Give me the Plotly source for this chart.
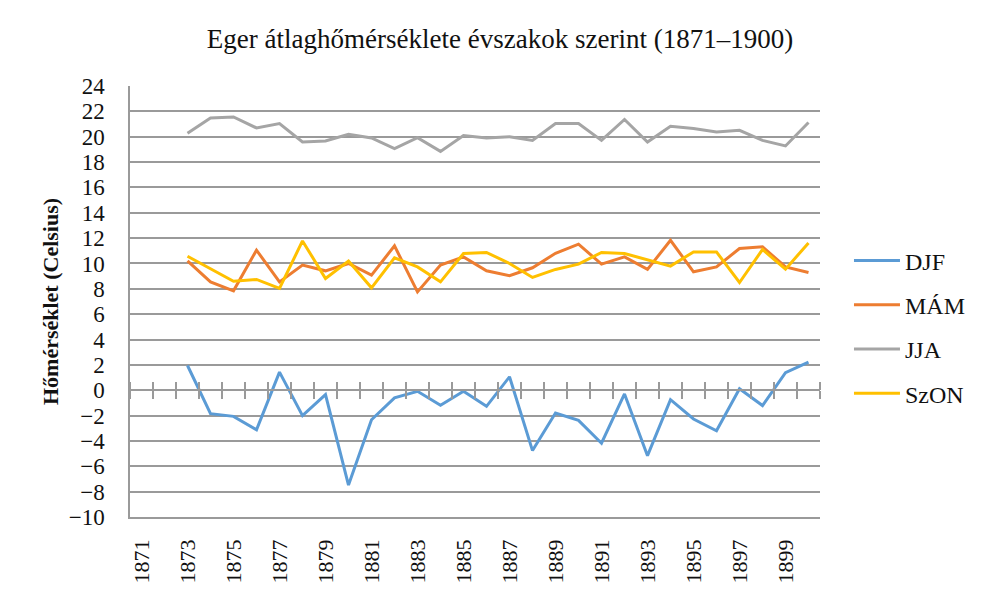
import plotly.graph_objects as go

years = list(range(1873, 1901))
tick_years = list(range(1871, 1900, 2))
tick_labels = [str(y) for y in tick_years]

djf = [1.95, -1.85, -2.06, -3.12, 1.43, -2.0, -0.34, -7.48, -2.33, -0.6, -0.08, -1.19, -0.08,
       -1.27, 1.06, -4.76, -1.8, -2.38, -4.18, -0.29, -5.16, -0.74, -2.27, -3.2, 0.11, -1.21, 1.38, 2.22]
mam = [10.2, 8.55, 7.84, 11.05, 8.55, 9.87, 9.42, 10.0, 9.08, 11.39, 7.76, 9.87, 10.52,
       9.42, 9.03, 9.66, 10.8, 11.52, 9.95, 10.52, 9.53, 11.83, 9.34, 9.73, 11.18, 11.31, 9.73, 9.29]
jja = [20.27, 21.48, 21.56, 20.69, 21.04, 19.58, 19.66, 20.19, 19.9, 19.06, 19.93, 18.84, 20.09,
       19.9, 20.0, 19.71, 21.04, 21.04, 19.71, 21.36, 19.58, 20.83, 20.64, 20.37, 20.5, 19.71, 19.27, 21.12]
szon = [10.57, 9.6, 8.6, 8.74, 8.03, 11.78, 8.82, 10.2, 8.08, 10.44, 9.73, 8.55, 10.79,
        10.87, 10.0, 8.9, 9.53, 9.95, 10.87, 10.79, 10.31, 9.79, 10.91, 10.91, 8.5, 11.1, 9.55, 11.62]

series = [("DJF", djf, "#5B9BD5"), ("MÁM", mam, "#ED7D31"), ("JJA", jja, "#A5A5A5"), ("SzON", szon, "#FFC000")]

FONT = "Liberation Serif"
GRID = "#9a9a9a"
TXT = "#111111"
YMIN, YMAX = -10, 24

fig = go.Figure()
for name, vals, col in series:
    fig.add_trace(go.Scatter(x=years, y=vals, name=name, mode="lines",
                             line=dict(color=col, width=3), legendgroup=name))

boundaries = [y + 0.5 for y in range(1870, 1901)]
# dummy traces for the category axis that crosses at zero
fig.add_trace(go.Scatter(x=[1871], y=[None], xaxis="x2", showlegend=False, hoverinfo="skip"))
fig.add_trace(go.Scatter(x=[1871], y=[None], xaxis="x3", showlegend=False, hoverinfo="skip"))

zero_pos = (0 - YMIN) / (YMAX - YMIN)

fig.update_layout(
    width=984, height=593,
    paper_bgcolor="white", plot_bgcolor="white",
    margin=dict(l=122, r=172, t=78, b=84),
    font=dict(family=FONT, color=TXT, size=23),
    title=dict(text="Eger átlaghőmérséklete évszakok szerint (1871–1900)",
               x=0.5, xanchor="center", y=0.948, yanchor="middle",
               font=dict(family=FONT, size=27, color=TXT)),
    xaxis=dict(range=[1870.5, 1900.5], tickmode="array", tickvals=tick_years, ticktext=tick_labels,
               tickangle=-90, showgrid=False, zeroline=False, showline=True, linecolor=GRID, linewidth=1.5,
               ticks="", tickfont=dict(size=22), ticklabelstandoff=12),
    xaxis2=dict(range=[1870.5, 1900.5], overlaying="x", anchor="free", position=zero_pos,
                tickmode="array", tickvals=boundaries, ticks="outside", ticklen=8, tickwidth=1.5,
                tickcolor=GRID, showticklabels=False, showgrid=False, zeroline=False,
                showline=True, linecolor=GRID, linewidth=1.5),
    xaxis3=dict(range=[1870.5, 1900.5], overlaying="x", anchor="free", position=zero_pos, side="top",
                tickmode="array", tickvals=boundaries, ticks="outside", ticklen=8, tickwidth=1.5,
                tickcolor=GRID, showticklabels=False, showgrid=False, zeroline=False, showline=False),
    yaxis=dict(range=[YMIN, YMAX], dtick=2, tick0=0, showgrid=True, gridcolor=GRID, gridwidth=1.5,
               zeroline=False, showline=True, linecolor=GRID, linewidth=1.5,
               ticks="outside", ticklen=19, tickcolor="rgba(0,0,0,0)",
               tickfont=dict(size=23),
               title=dict(text="<b>Hőmérséklet (Celsius)</b>", standoff=4, font=dict(size=22))),
    legend=dict(x=1.042, y=0.441, xanchor="left", yanchor="middle", tracegroupgap=10,
                font=dict(size=24), itemwidth=46, bgcolor="rgba(0,0,0,0)"),
)

fig.write_html("out.html")
